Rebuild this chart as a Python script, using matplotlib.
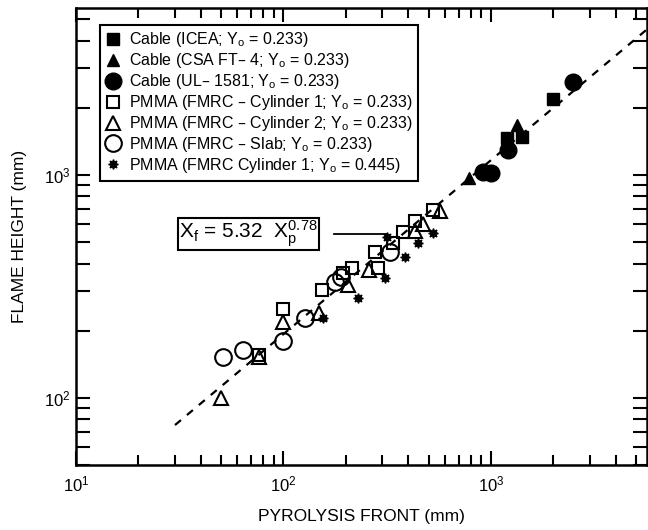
"""Flame height vs pyrolysis front, log-log"""
import numpy as np
import matplotlib
matplotlib.use('Agg')
import matplotlib.pyplot as plt
from matplotlib.ticker import LogLocator, NullFormatter

plt.rcParams['font.family'] = ['Liberation Sans', 'DejaVu Sans']
plt.rcParams['mathtext.default'] = 'regular'

# Cable data (filled markers)
icea_x = [1195, 1405, 1980]
icea_y = [1465, 1475, 2190]
csa_x = [780, 1330]
csa_y = [970, 1680]
ul_x = [918, 1005, 1210, 2480]
ul_y = [1035, 1024, 1295, 2610]

# PMMA data (open markers)
cyl1_x = [76, 100, 153, 194, 213, 276, 286, 338, 375, 430, 527]
cyl1_y = [156, 250, 305, 362, 382, 453, 382, 494, 557, 618, 697]
cyl2_x = [50, 76, 100, 148, 205, 259, 430, 470, 565]
cyl2_y = [100, 152, 220, 240, 321, 375, 560, 600, 685]
slab_x = [51, 64, 100, 127, 177, 190, 326]
slab_y = [153, 164, 179, 228, 332, 350, 453]
cyl1b_x = [155, 229, 308, 314, 385, 447, 527]
cyl1b_y = [228, 280, 344, 528, 430, 494, 548]

labels = ['Cable (ICEA; Y$_o$ = 0.233)',
          'Cable (CSA FT\u2013 4; Y$_o$ = 0.233)',
          'Cable (UL\u2013 1581; Y$_o$ = 0.233)',
          'PMMA (FMRC \u2013 Cylinder 1; Y$_o$ = 0.233)',
          'PMMA (FMRC \u2013 Cylinder 2; Y$_o$ = 0.233)',
          'PMMA (FMRC \u2013 Slab; Y$_o$ = 0.233)',
          'PMMA (FMRC Cylinder 1; Y$_o$ = 0.445)']

# correlation X_f = 5.32 X_p^0.78
fit_a, fit_n = 5.32, 0.78
fit_x = np.logspace(np.log10(30), np.log10(5650), 100)
fit_y = fit_a * fit_x ** fit_n

fig = plt.figure(figsize=(6.48, 5.30), dpi=100)
ax = fig.add_axes([76 / 648, 65 / 530, 571 / 648, 457 / 530])

ax.plot(fit_x, fit_y, color='black', lw=1.6, ls=(0, (3.5, 3.5)), zorder=1)

ax.plot(icea_x, icea_y, 's', color='black', ms=8, ls='none', label=labels[0])
ax.plot(csa_x, csa_y, '^', color='black', ms=9, ls='none', label=labels[1])
ax.plot(ul_x, ul_y, 'o', color='black', ms=12, ls='none', label=labels[2])
ax.plot(cyl1_x, cyl1_y, 's', mfc='none', mec='black', mew=1.5, ms=9, ls='none', label=labels[3])
ax.plot(cyl2_x, cyl2_y, '^', mfc='none', mec='black', mew=1.5, ms=10, ls='none', label=labels[4])
ax.plot(slab_x, slab_y, 'o', mfc='none', mec='black', mew=1.5, ms=12, ls='none', label=labels[5])
ax.plot(cyl1b_x, cyl1b_y, marker=(8, 1, 0), color='black', ms=7, ls='none', label=labels[6])

ax.set_xscale('log')
ax.set_yscale('log')
ax.set_xlim(10, 5650)
ax.set_ylim(50, 5600)

for axis in (ax.xaxis, ax.yaxis):
    axis.set_major_locator(LogLocator(base=10))
    axis.set_minor_locator(LogLocator(base=10, subs=np.arange(2, 10)))
    axis.set_minor_formatter(NullFormatter())
ax.tick_params(which='both', direction='in', top=True, right=True, width=1.5, labelsize=12)
ax.tick_params(axis='x', which='major', length=10, pad=7)
ax.tick_params(axis='x', which='minor', length=7)
ax.tick_params(axis='y', which='both', length=10, pad=4)
for s in ax.spines.values():
    s.set_linewidth(1.8)

ax.set_xlabel('PYROLYSIS FRONT (mm)', fontsize=12.5, labelpad=10)
ax.set_ylabel('FLAME HEIGHT (mm)', fontsize=12.5, labelpad=12)

leg = ax.legend(loc='upper left', bbox_to_anchor=(0.042, 0.963), borderaxespad=0,
                fontsize=11.5, handlelength=0.9, handletextpad=0.55, labelspacing=0.12,
                borderpad=0.35, fancybox=False, edgecolor='black', framealpha=1)
leg.get_frame().set_linewidth(1.5)

ax.annotate('X$_f$ = 5.32  X$_p^{0.78}$', xy=(315, 543), xytext=(68, 543),
            fontsize=15, ha='center', va='center',
            bbox=dict(boxstyle='square,pad=0.05', fc='white', ec='black', lw=1.5),
            arrowprops=dict(arrowstyle='-', color='black', lw=1.3, shrinkA=10, shrinkB=0))

fig.savefig('out.png', dpi=100)
